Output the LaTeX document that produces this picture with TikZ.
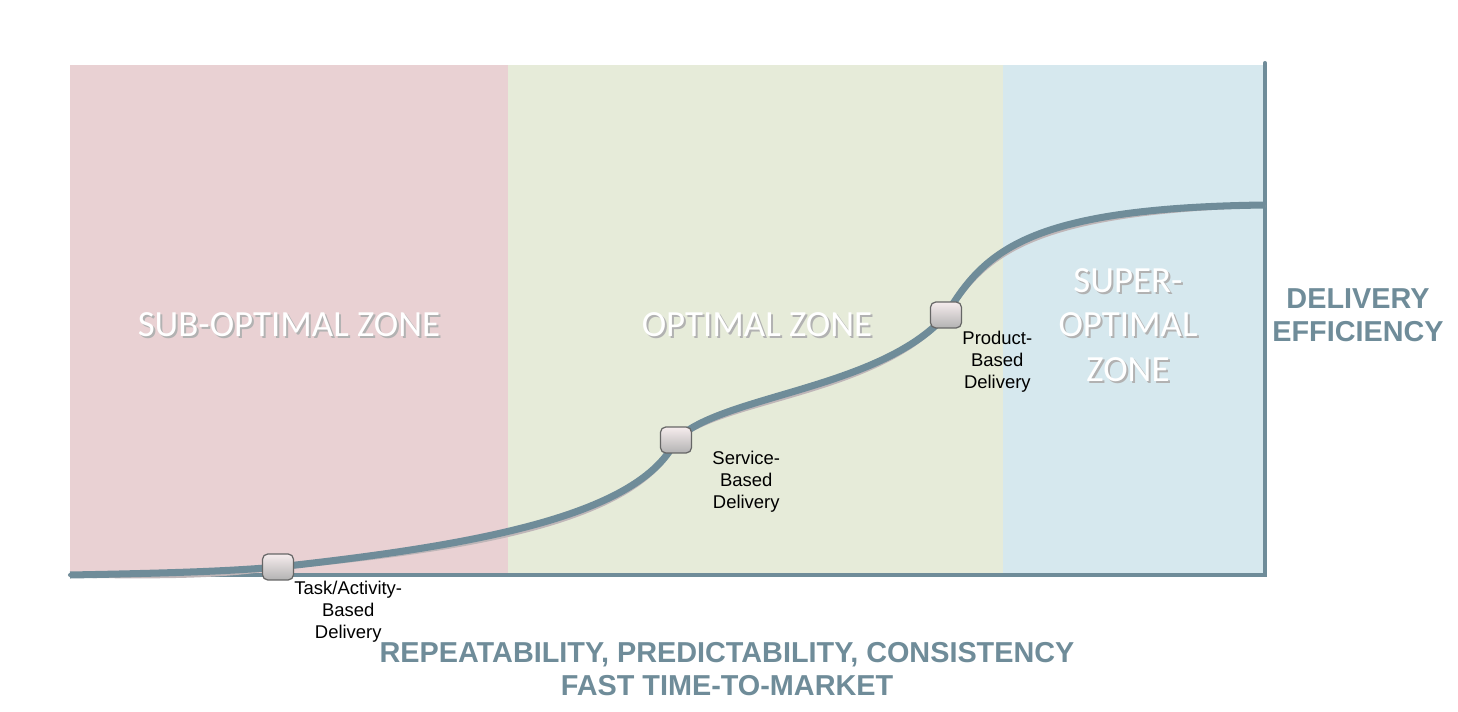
\documentclass[tikz,border=0pt]{standalone}
\usepackage{fontspec}
\setmainfont{Liberation Sans}
\newfontfamily\zonefont{Carlito}
\usetikzlibrary{positioning}

\definecolor{slate}{HTML}{6F8C99}
\definecolor{subzone}{HTML}{E9D1D3}
\definecolor{optzone}{HTML}{E6EBD9}
\definecolor{superzone}{HTML}{D6E8EE}
\definecolor{curveshadow}{HTML}{BFB6B8}

\tikzset{
  axis/.style={draw=slate, line width=2.3pt, line cap=round},
  curve/.style={draw=slate, line width=4pt},
  stage/.style={rectangle, rounded corners=3pt, minimum width=0.62cm, minimum height=0.52cm,
    top color=white!60!subzone, bottom color=black!30, draw=black!60, line width=0.7pt},
  stagelabel/.style={align=center, inner sep=0pt, font=\fontsize{10.5}{12.5}\selectfont},
  zonelabel/.style={align=center, text=white, font=\zonefont\fontsize{21}{25.5}\selectfont},
  zoneshadow/.style={zonelabel, text=black!30, xshift=0.04cm, yshift=-0.04cm},
  axislabel/.style={align=center, text=slate, font=\bfseries\fontsize{16.4}{18.7}\selectfont}
}

\begin{document}
\begin{tikzpicture}[x=0.02cm,y=-0.02cm]
  \useasboundingbox (0,0) rectangle (1458,712);

  % zones
  \fill[subzone] (70,65) rectangle (508,575);
  \fill[optzone] (508,65) rectangle (1003,575);
  \fill[superzone] (1003,65) rectangle (1265,575);

  \node[zoneshadow] (subs) at (289,325) {SUB-OPTIMAL ZONE};
  \node[zonelabel] (sub) at (289,325) {SUB-OPTIMAL ZONE};
  \node[zoneshadow] (opts) at (757,325) {OPTIMAL ZONE};
  \node[zonelabel] (opt) at (757,325) {OPTIMAL ZONE};
  \node[zoneshadow] (supers) at (1128,325) {SUPER-\\OPTIMAL\\ZONE};
  \node[zonelabel] (super) at (1128,325) {SUPER-\\OPTIMAL\\ZONE};

  % axes
  \coordinate (origin) at (70,575);
  \coordinate (corner) at (1265,575);
  \coordinate (top) at (1265,63);
  \draw[axis] (origin) -- (corner) -- (top);

  % maturity curve
  \coordinate (p1) at (278,567);
  \coordinate (p2) at (676,440);
  \coordinate (p3) at (946,315);
  \coordinate (end) at (1265,205);

  \draw[curveshadow, line width=3pt, yshift=-0.08cm] (origin) .. controls (180,573) and (230,571) .. (p1)
    .. controls (480,545) and (640,515) .. (p2)
    .. controls (720,395) and (880,390) .. (p3)
    .. controls (985,250) and (1030,208) .. (end);
  \draw[curve] (origin) .. controls (180,573) and (230,571) .. (p1)
    .. controls (480,545) and (640,515) .. (p2)
    .. controls (720,395) and (880,390) .. (p3)
    .. controls (985,250) and (1030,208) .. (end);

  \node[stage] (task) at (p1) {};
  \node[stage] (service) at (p2) {};
  \node[stage] (product) at (p3) {};

  \node[stagelabel, below right=0pt and 0pt of task] (tasklabel) {Task/Activity-\\Based\\Delivery};
  \node[stagelabel, below right=-0.05cm and 0.4cm of service] (servicelabel) {Service-\\Based\\Delivery};
  \node[stagelabel, below right=0.05cm and 0pt of product] (productlabel) {Product-\\Based\\Delivery};

  % axis titles
  \node[axislabel] (yaxis) at (1358,315) {DELIVERY\\EFFICIENCY};
  \node[axislabel] (xaxis) at (727,669) {REPEATABILITY, PREDICTABILITY, CONSISTENCY\\FAST TIME-TO-MARKET};
\end{tikzpicture}
\end{document}
